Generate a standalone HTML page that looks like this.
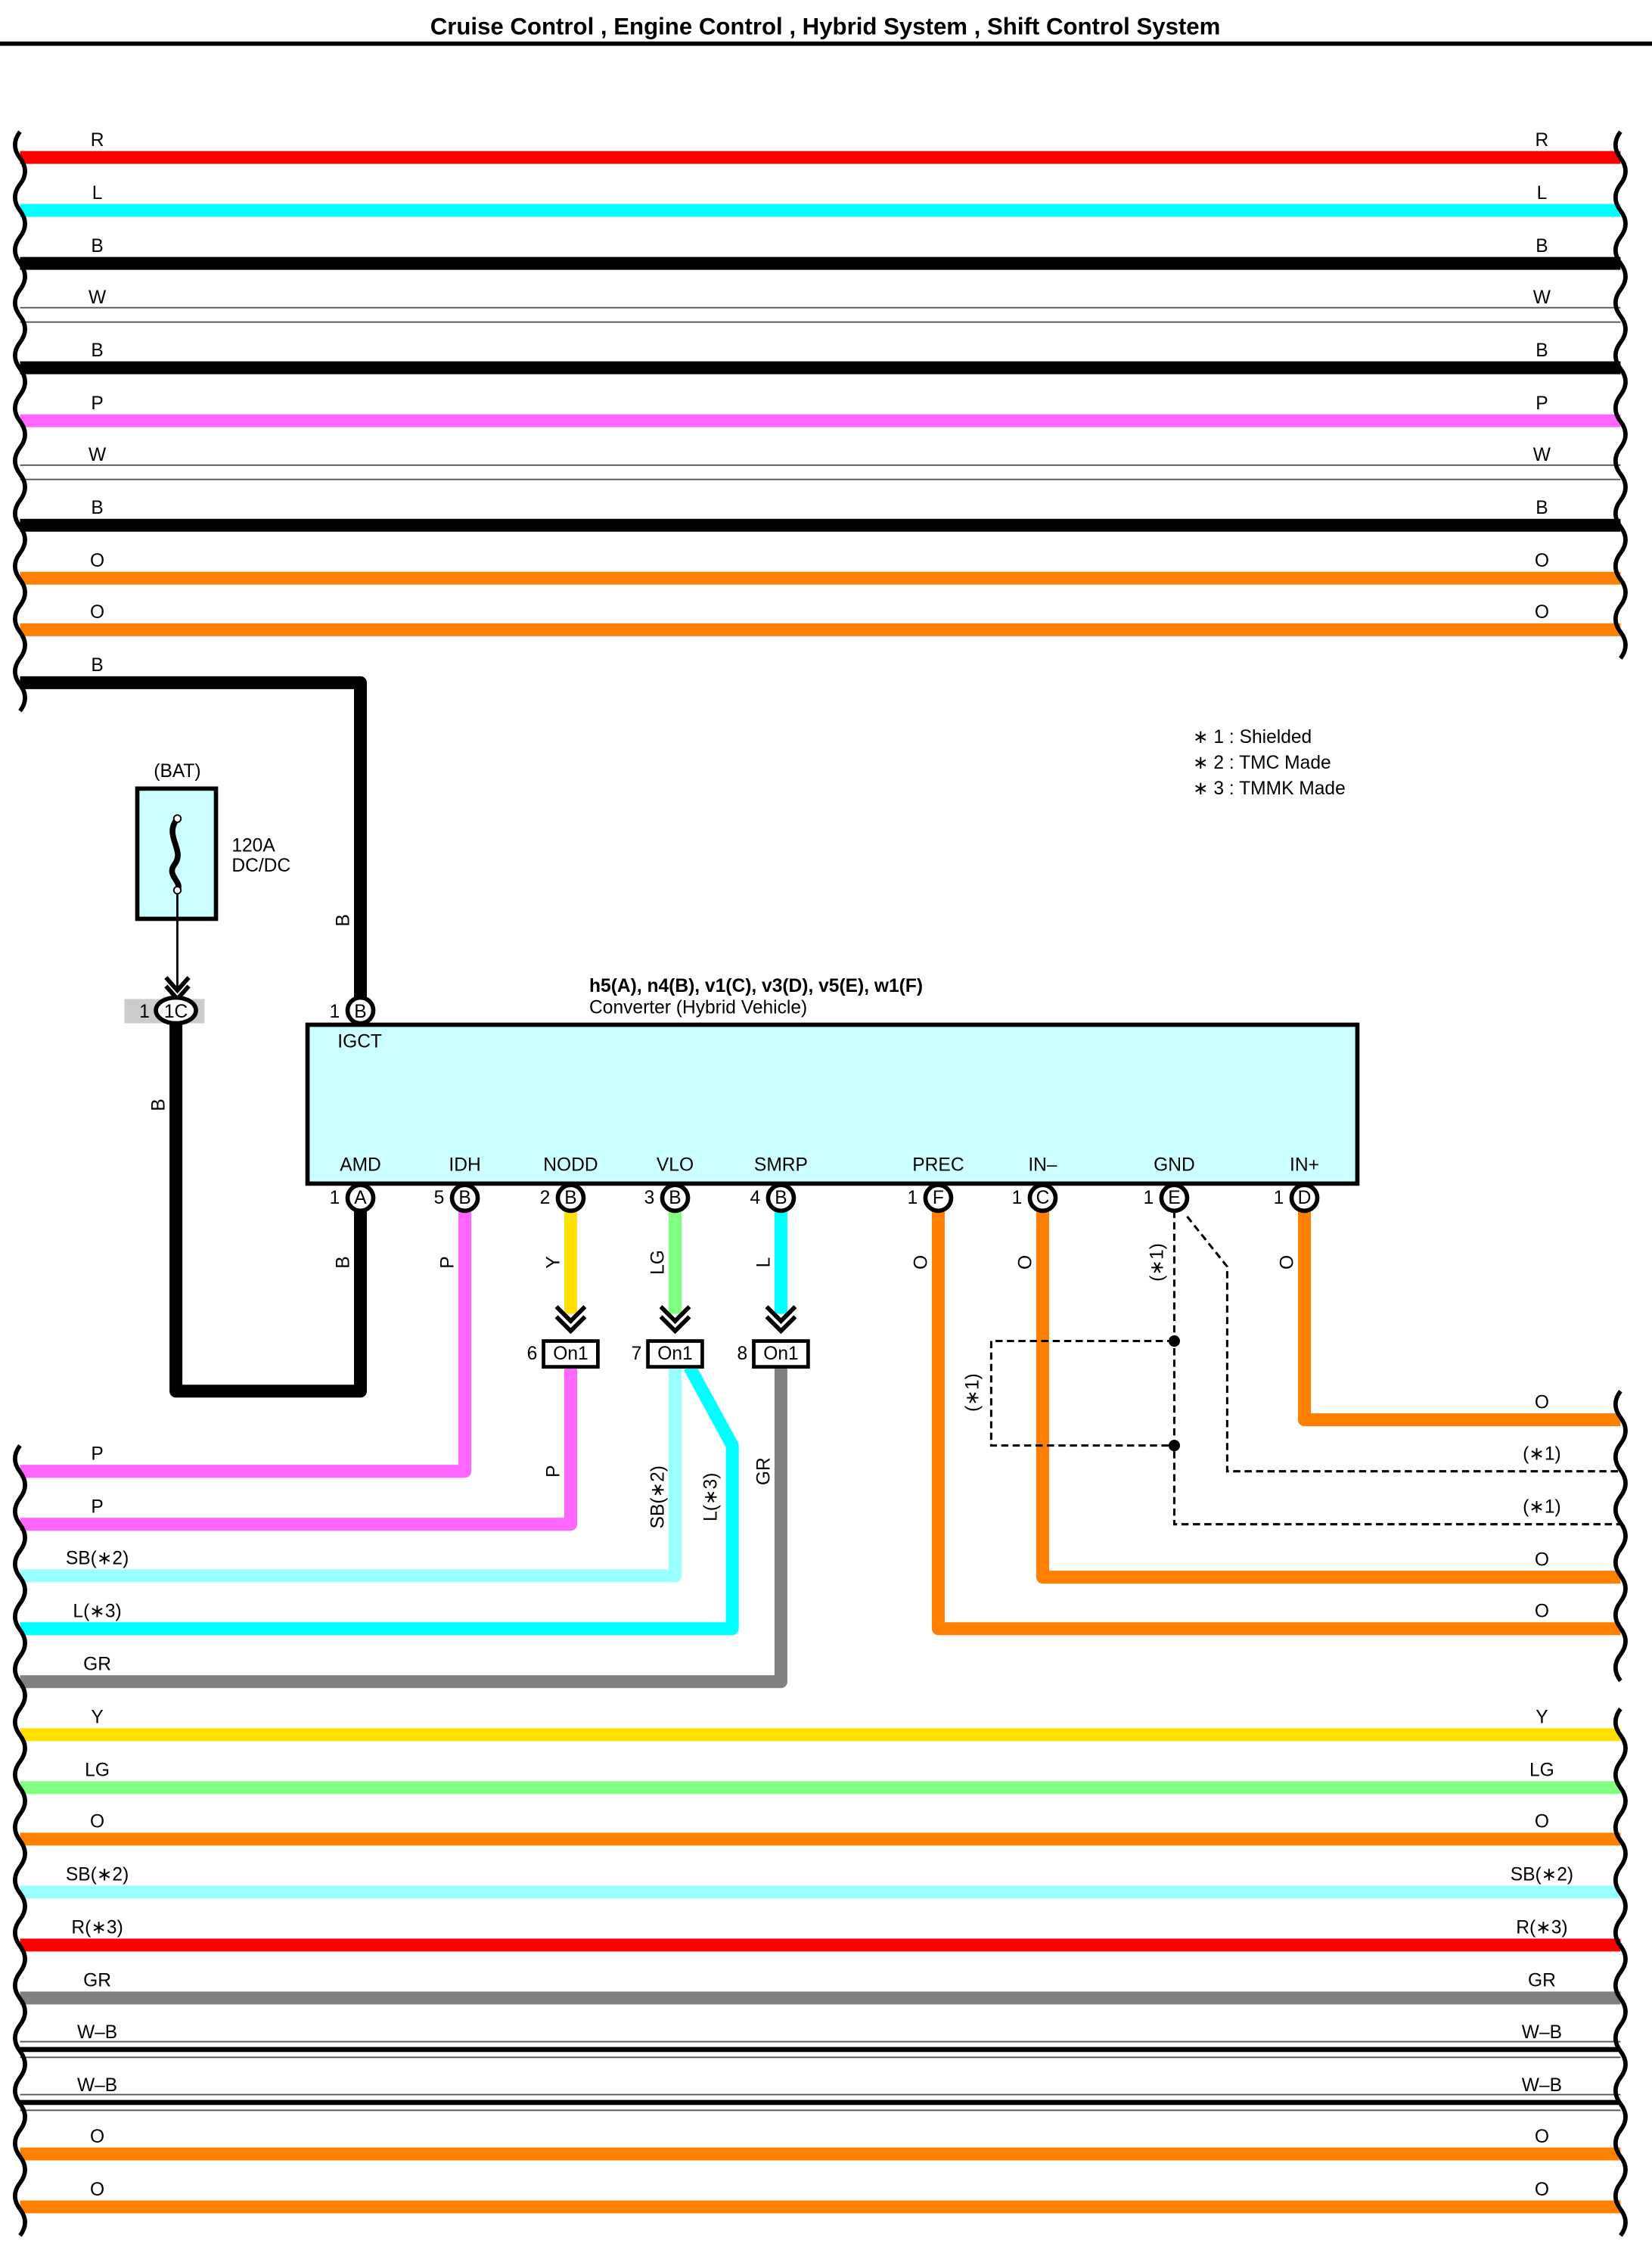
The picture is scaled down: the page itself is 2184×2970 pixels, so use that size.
<!DOCTYPE html>
<html><head><meta charset="utf-8"><style>
html,body{margin:0;padding:0;background:#fff}
svg{display:block}
text{font-family:"Liberation Sans",sans-serif;font-size:13px;fill:#000}
</style></head><body>
<svg id="s" width="2184" height="2970" viewBox="0 0 1155 1570" preserveAspectRatio="none" xmlns="http://www.w3.org/2000/svg">
<text x="577" y="24" text-anchor="middle" style="font-size:16.5px;font-weight:bold">Cruise Control , Engine Control , Hybrid System , Shift Control System</text>
<rect x="0" y="29" width="1155" height="3" fill="#000"/>
<g id="wires" stroke-linecap="butt" fill="none"></g>
<g id="waves" fill="none" stroke="#000" stroke-width="3"></g>

<g text-anchor="middle">
<text x="68" y="102">R</text><text x="1078" y="102">R</text>
<text x="68" y="139">L</text><text x="1078" y="139">L</text>
<text x="68" y="176">B</text><text x="1078" y="176">B</text>
<text x="68" y="212">W</text><text x="1078" y="212">W</text>
<text x="68" y="249">B</text><text x="1078" y="249">B</text>
<text x="68" y="286">P</text><text x="1078" y="286">P</text>
<text x="68" y="322">W</text><text x="1078" y="322">W</text>
<text x="68" y="359">B</text><text x="1078" y="359">B</text>
<text x="68" y="396">O</text><text x="1078" y="396">O</text>
<text x="68" y="432">O</text><text x="1078" y="432">O</text>
<text x="68" y="469">B</text>
<text x="68" y="1020">P</text>
<text x="68" y="1057">P</text>
<text x="68" y="1093">SB(∗2)</text>
<text x="68" y="1130">L(∗3)</text>
<text x="68" y="1167">GR</text>
<text x="1078" y="984">O</text>
<text x="1078" y="1020">(∗1)</text>
<text x="1078" y="1057">(∗1)</text>
<text x="1078" y="1094">O</text>
<text x="1078" y="1130">O</text>
<text x="68" y="1204">Y</text><text x="1078" y="1204">Y</text>
<text x="68" y="1241">LG</text><text x="1078" y="1241">LG</text>
<text x="68" y="1277">O</text><text x="1078" y="1277">O</text>
<text x="68" y="1314">SB(∗2)</text><text x="1078" y="1314">SB(∗2)</text>
<text x="68" y="1351">R(∗3)</text><text x="1078" y="1351">R(∗3)</text>
<text x="68" y="1388">GR</text><text x="1078" y="1388">GR</text>
<text x="68" y="1424">W–B</text><text x="1078" y="1424">W–B</text>
<text x="68" y="1461">W–B</text><text x="1078" y="1461">W–B</text>
<text x="68" y="1497">O</text><text x="1078" y="1497">O</text>
<text x="68" y="1534">O</text><text x="1078" y="1534">O</text>
</g>

<text x="834" y="519">∗ 1 : Shielded</text>
<text x="834" y="537">∗ 2 : TMC Made</text>
<text x="834" y="555">∗ 3 : TMMK Made</text>

<text x="124" y="543" text-anchor="middle">(BAT)</text>
<rect x="96" y="551" width="55" height="91" fill="#ccffff" stroke="#000" stroke-width="3"/>
<path d="M124 572 c-10 12 6 22 -2 32 c-6 8 6 12 2 18" stroke="#000" stroke-width="4" fill="none"/>
<circle cx="124" cy="572" r="2.5" fill="#fff" stroke="#000"/>
<circle cx="124" cy="622" r="2.5" fill="#fff" stroke="#000"/>
<text x="162" y="595">120A</text><text x="162" y="609">DC/DC</text>
<line x1="124" y1="624" x2="124" y2="690" stroke="#000" stroke-width="1.5"/>
<path d="M116 683 L124 692 L132 683 M116 689 L124 698 L132 689" stroke="#000" stroke-width="3" fill="none"/>
<rect x="87" y="698" width="56" height="17" fill="#ccc"/>

<text x="412" y="693" style="font-weight:bold;font-size:13px">h5(A), n4(B), v1(C), v3(D), v5(E), w1(F)</text>
<text x="412" y="708">Converter (Hybrid Vehicle)</text>
<rect x="215" y="716" width="734" height="111" fill="#ccffff" stroke="#000" stroke-width="3"/>
<text x="236" y="732">IGCT</text>
<g text-anchor="middle">
<text x="252" y="818">AMD</text><text x="325" y="818">IDH</text><text x="399" y="818">NODD</text>
<text x="472" y="818">VLO</text><text x="546" y="818">SMRP</text><text x="656" y="818">PREC</text>
<text x="729" y="818">IN–</text><text x="821" y="818">GND</text><text x="912" y="818">IN+</text>
</g>

<g stroke="#000" stroke-width="1.6" stroke-dasharray="5,3" fill="none">
<path d="M821 846 V1065 H1133"/>
<path d="M830 850 L858 885 V1028 H1133"/>
<path d="M821 937 H693 V1010 H821"/>
</g>
<circle cx="821" cy="937" r="4" fill="#000"/><circle cx="821" cy="1010" r="4" fill="#000"/>

<g id="pins"></g>
<ellipse cx="123" cy="706" rx="14" ry="9" fill="#fff" stroke="#000" stroke-width="3"/>

<g stroke="#000" stroke-width="3" fill="none">
<path d="M389 913 l10 10 l10 -10 M389 920 l10 10 l10 -10"/>
<path d="M462 913 l10 10 l10 -10 M462 920 l10 10 l10 -10"/>
<path d="M536 913 l10 10 l10 -10 M536 920 l10 10 l10 -10"/>
</g>
<g>
<rect x="380" y="937" width="38" height="18" fill="#fff" stroke="#000" stroke-width="2.5"/>
<rect x="453" y="937" width="38" height="18" fill="#fff" stroke="#000" stroke-width="2.5"/>
<rect x="527" y="937" width="38" height="18" fill="#fff" stroke="#000" stroke-width="2.5"/>
</g>
<g text-anchor="middle">
<text x="399" y="950">On1</text><text x="472" y="950">On1</text><text x="546" y="950">On1</text>
<text x="372" y="950">6</text><text x="445" y="950">7</text><text x="519" y="950">8</text>
</g>

<g text-anchor="middle">
<text x="101" y="711">1</text>
<text x="234" y="711">1</text><text x="252" y="711">B</text>
<text x="123" y="711">1C</text>
<text x="234" y="841">1</text><text x="252" y="841">A</text>
<text x="307" y="841">5</text><text x="325" y="841">B</text>
<text x="381" y="841">2</text><text x="399" y="841">B</text>
<text x="454" y="841">3</text><text x="472" y="841">B</text>
<text x="528" y="841">4</text><text x="546" y="841">B</text>
<text x="638" y="841">1</text><text x="656" y="841">F</text>
<text x="711" y="841">1</text><text x="729" y="841">C</text>
<text x="803" y="841">1</text><text x="821" y="841">E</text>
<text x="894" y="841">1</text><text x="912" y="841">D</text>
</g>

<g text-anchor="middle">
<text transform="translate(244,643) rotate(-90)">B</text>
<text transform="translate(115,772) rotate(-90)">B</text>
<text transform="translate(244,882) rotate(-90)">B</text>
<text transform="translate(317,882) rotate(-90)">P</text>
<text transform="translate(391,882) rotate(-90)">Y</text>
<text transform="translate(464,882) rotate(-90)">LG</text>
<text transform="translate(538,882) rotate(-90)">L</text>
<text transform="translate(648,882) rotate(-90)">O</text>
<text transform="translate(721,882) rotate(-90)">O</text>
<text transform="translate(813,882) rotate(-90)">(∗1)</text>
<text transform="translate(904,882) rotate(-90)">O</text>
<text transform="translate(391,1028) rotate(-90)">P</text>
<text transform="translate(464,1046) rotate(-90)">SB(∗2)</text>
<text transform="translate(501,1046) rotate(-90)">L(∗3)</text>
<text transform="translate(538,1028) rotate(-90)">GR</text>
<text transform="translate(684,973) rotate(-90)">(∗1)</text>
</g>
</svg>
<script>
(function(){
var NS="http://www.w3.org/2000/svg",W=document.getElementById('wires'),Wv=document.getElementById('waves'),P=document.getElementById('pins');
function el(p,t,a){var e=document.createElementNS(NS,t);for(var k in a)e.setAttribute(k,a[k]);p.appendChild(e);return e;}
var C={R:'#ff0000',L:'#00ffff',B:'#000',P:'#ff66ff',O:'#ff8000',Y:'#ffe000',LG:'#80ff80',SB:'#99ffff',GR:'#808080'};
function wire(d,c,w){if(c==='W'){el(W,'path',{d:d,stroke:'#555','stroke-width':11});el(W,'path',{d:d,stroke:'#fff','stroke-width':9});return;}
 if(c==='WB'){el(W,'path',{d:d,stroke:'#555','stroke-width':12});el(W,'path',{d:d,stroke:'#fff','stroke-width':10});el(W,'path',{d:d,stroke:'#000','stroke-width':3.5});return;}
 el(W,'path',{d:d,stroke:C[c],'stroke-width':w||9,'stroke-linejoin':'round'});}
var topW=[['R',110],['L',147],['B',184],['W',220],['B',257],['P',294],['W',330],['B',367],['O',404],['O',440]];
topW.forEach(function(t){wire('M14 '+t[1]+' H1133',t[0]);});
var botW=[['Y',1212],['LG',1249],['O',1285],['SB',1322],['R',1359],['GR',1396],['WB',1432],['WB',1469],['O',1505],['O',1542]];
botW.forEach(function(t){wire('M14 '+t[1]+' H1133',t[0]);});
wire('M14 477 H252 V706','B');
wire('M252 837 V972 H123 V706','B');
wire('M325 837 V1028 H14','P');
wire('M399 837 V918','Y');wire('M399 955 V1065 H14','P');
wire('M472 837 V918','LG');wire('M472 955 V1101 H14','SB');
wire('M482 955 L512 1010 V1138 H14','L');
wire('M546 837 V918','L');wire('M546 955 V1175 H14','GR');
wire('M656 837 V1138 H1133','O');
wire('M729 837 V1102 H1133','O');
wire('M912 837 V992 H1133','O');
[[252,706],[252,837],[325,837],[399,837],[472,837],[546,837],[656,837],[729,837],[821,837],[912,837]].forEach(function(p){
 el(P,'circle',{cx:p[0],cy:p[1],r:9,fill:'#fff',stroke:'#000','stroke-width':3});});
function wave(x,y0,y1){var d='M'+x+' '+y0,s=1;for(var y=y0;y<y1;y+=18.4){d+=' q'+(s*-7)+' 9.2 0 18.4';s=-s;}el(Wv,'path',{d:d});}
wave(14,92,495);wave(14,1010,1562);
wave(1133,92,458);wave(1133,972,1158);wave(1133,1194,1562);
})();
</script>
</body></html>
